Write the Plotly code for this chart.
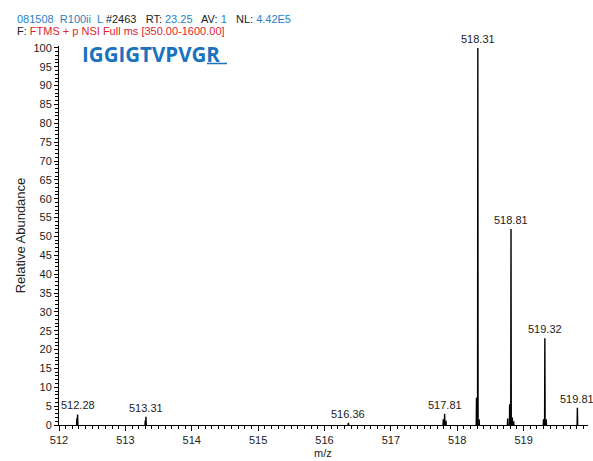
import plotly.graph_objects as go

# Peak data
label_mz = [512.28, 513.31, 516.36, 517.81, 518.31, 518.81, 519.32, 519.81]
label_int = [2.8, 2.2, 0.6, 3.0, 100.0, 52.0, 23.0, 4.6]
minor_mz = [512.27, 513.30, 517.79, 517.83, 518.29, 518.33, 518.76, 518.79, 518.83, 518.85, 519.30, 519.34]
minor_int = [1.8, 1.2, 1.5, 1.2, 7.2, 1.5, 1.7, 5.5, 2.0, 1.0, 1.5, 1.5]

x_ticks = [512, 513, 514, 515, 516, 517, 518, 519]
y_ticks = list(range(0, 101, 5))

HALF_W = 0.004  # drawn half-width of a profile peak (style)

xs, ys = [], []
pairs = sorted(zip(label_mz + minor_mz, label_int + minor_int))
for m, h in pairs:
    xs += [m - HALF_W, m, m + HALF_W, None]
    ys += [0, h, 0, None]

FONT = "Liberation Sans, Arial, sans-serif"
BLUE = "#2a7fc4"
RED = "#e0262b"

fig = go.Figure()
fig.add_trace(go.Scatter(x=xs, y=ys, mode="lines", line=dict(color="black", width=1.4),
                         hoverinfo="skip", showlegend=False, connectgaps=False))

for m, h in zip(label_mz, label_int):
    fig.add_annotation(x=m, y=h, text=f"{m:.2f}", showarrow=False, yanchor="bottom",
                       yshift=1, font=dict(family=FONT, size=11, color="#222"))

W, H = 593, 461
L, R, T, B = 59, 5, 46, 36
PW, PH = W - L - R, H - T - B

def px2x(px):
    return (px - L) / PW

def py2y(py):
    return (H - B - py) / PH

line1 = (f"<span style='color:{BLUE}'>081508  R100ii  L</span> #2463   RT: "
         f"<span style='color:{BLUE}'>23.25</span>   AV: <span style='color:{BLUE}'>1</span>"
         f"   NL: <span style='color:{BLUE}'>4.42E5</span>")
line2 = f"F: <span style='color:{RED}'>FTMS + p NSI Full ms [350.00-1600.00]</span>"
fig.add_annotation(xref="paper", yref="paper", x=px2x(15), y=py2y(19), text=line1,
                   showarrow=False, xanchor="left", yanchor="middle",
                   font=dict(family=FONT, size=11, color="#222"))
fig.add_annotation(xref="paper", yref="paper", x=px2x(15), y=py2y(31), text=line2,
                   showarrow=False, xanchor="left", yanchor="middle",
                   font=dict(family=FONT, size=11, color="#222"))
fig.add_annotation(xref="paper", yref="paper", x=px2x(80), y=py2y(54), text="<b>IGGIGTVPVGR</b>",
                   showarrow=False, xanchor="left", yanchor="middle",
                   font=dict(family="Open Sans, Liberation Sans, sans-serif", size=20.5, color="#1a73bd"))
fig.add_shape(type="line", xref="paper", yref="paper", x0=px2x(207), x1=px2x(227),
              y0=py2y(63.5), y1=py2y(63.5), line=dict(color="#1a73bd", width=1.5))
fig.add_annotation(xref="paper", yref="paper", x=px2x(323), y=py2y(453), text="m/z",
                   showarrow=False, xanchor="center", yanchor="middle",
                   font=dict(family=FONT, size=11, color="#222"))

fig.update_layout(
    width=W, height=H,
    margin=dict(l=L, r=R, t=T, b=B, autoexpand=False),
    paper_bgcolor="white", plot_bgcolor="white",
    font=dict(family=FONT, size=11, color="#222"),
    xaxis=dict(range=[512, 519.97], tickvals=x_ticks, ticks="outside", ticklen=5, tickwidth=1,
               tickcolor="black", showline=True, linecolor="black", linewidth=1,
               showgrid=False, zeroline=False, automargin=False,
               minor=dict(dtick=0.1, ticks="outside", ticklen=3, tickcolor="black", showgrid=False),
               tickfont=dict(size=11)),
    yaxis=dict(range=[0, 100.5], tickvals=y_ticks, ticks="outside", ticklen=4, tickwidth=1,
               tickcolor="black", showline=True, linecolor="black", linewidth=1,
               showgrid=False, zeroline=False, automargin=False,
               minor=dict(dtick=1, ticks="outside", ticklen=3, tickcolor="black", showgrid=False),
               title=dict(text="Relative Abundance", font=dict(size=13), standoff=4),
               tickfont=dict(size=11)),
)

fig.write_html("out.html", config={"displayModeBar": False},
               post_script="document.body.style.margin='0';document.body.style.overflow='hidden';")
